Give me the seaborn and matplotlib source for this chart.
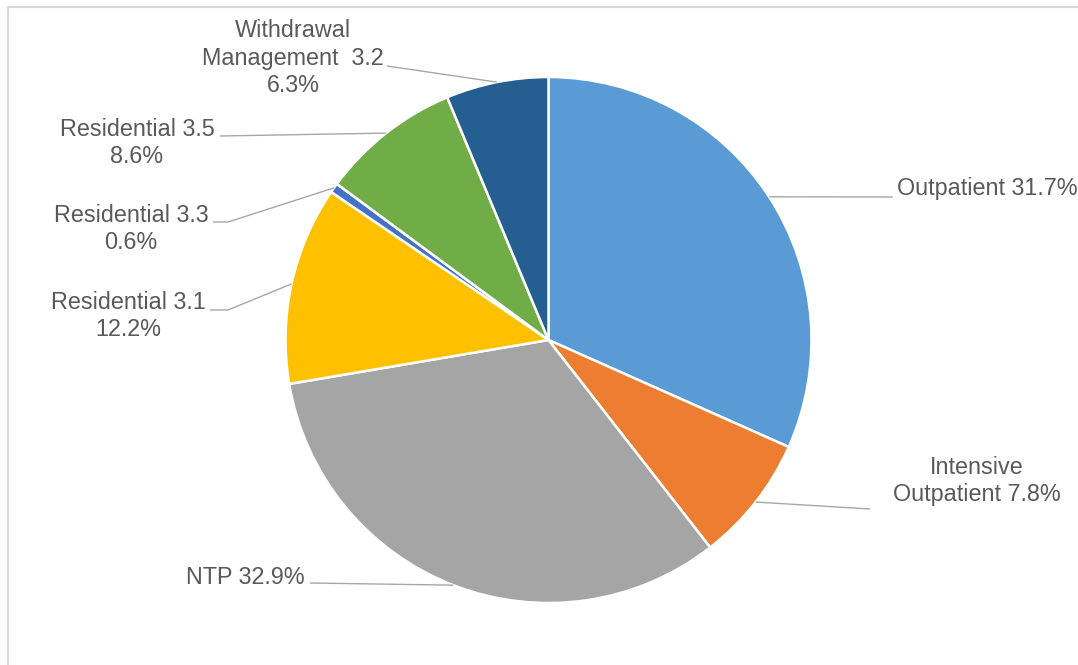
import numpy as np
import matplotlib
matplotlib.use("Agg")
import matplotlib.pyplot as plt
from matplotlib.lines import Line2D
import seaborn as sns

# ---- data ----
categories = ["Outpatient", "Intensive\nOutpatient", "NTP", "Residential 3.1",
              "Residential 3.3", "Residential 3.5", "Withdrawal\nManagement  3.2"]
percent = [31.7, 7.8, 32.9, 12.2, 0.6, 8.6, 6.3]
colors = ["#5B9BD5", "#ED7D31", "#A5A5A5", "#FFC000", "#4472C4", "#70AD47", "#255E91"]

sns.set_theme(style="white")
plt.rcParams['font.family'] = ['Liberation Sans', 'DejaVu Sans']

W, H = 1078, 665
fig = plt.figure(figsize=(W / 100, H / 100), dpi=100)
ax = fig.add_axes([0, 0, 1, 1])

cx, cy, R = 548.5, H - 340, 263
wedges, _ = ax.pie(percent, colors=colors, startangle=90, counterclock=False,
                   center=(cx, cy), radius=R, frame=True,
                   wedgeprops=dict(edgecolor="white", linewidth=1.8))
ax.set_xlim(0, W)
ax.set_ylim(0, H)
ax.set_aspect("equal")
ax.axis("off")

# label layout (pixel coords, y measured from top): text pos, ha, leader path
layout = [
    dict(txt=(897, 189), ha="left", path=[(893, 197)]),
    dict(txt=(977, 481), ha="center", path=[(870, 509)]),
    dict(txt=(305, 578), ha="right", path=[(310, 583)]),
    dict(txt=(128, 316), ha="center", path=[(228, 310), (210, 310)]),
    dict(txt=(131, 229), ha="center", path=[(228, 222), (213, 222)]),
    dict(txt=(137, 143), ha="center", path=[(220, 136)]),
    dict(txt=(293, 58), ha="center", path=[(387, 66)]),
]

tc = "#595959"
for w, cat, p, lay in zip(wedges, categories, percent, layout):
    ang = np.deg2rad((w.theta1 + w.theta2) / 2)
    ex, ey = cx + R * np.cos(ang), cy + R * np.sin(ang)
    xs = [ex] + [q[0] for q in lay["path"]]
    ys = [ey] + [H - q[1] for q in lay["path"]]
    ax.plot(xs, ys, color="#A6A6A6", lw=1.0, solid_capstyle="butt")
    if cat in ("Outpatient", "NTP") or cat.startswith("Intensive"):
        label = f"{cat} {p}%"
    else:
        label = f"{cat}\n{p}%"
    ax.text(lay["txt"][0], H - lay["txt"][1], label, ha=lay["ha"], va="center",
            multialignment="center", fontsize=16.8, color=tc, linespacing=1.27)

# chart frame
fig.add_artist(Line2D([7.5 / W, 7.5 / W], [0, 1 - 6.5 / H], color="#D9D9D9", lw=1.5,
                      transform=fig.transFigure))
fig.add_artist(Line2D([7.5 / W, 1], [1 - 6.5 / H, 1 - 6.5 / H], color="#D9D9D9", lw=1.5,
                      transform=fig.transFigure))

fig.savefig("out.png", dpi=100, facecolor="white")
